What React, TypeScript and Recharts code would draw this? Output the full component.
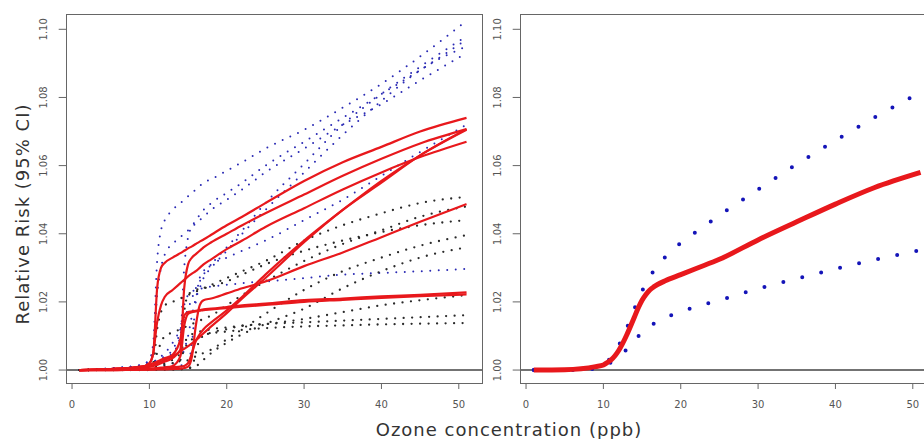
import React from 'react'
import { LineChart, Line, XAxis, YAxis, ReferenceLine } from 'recharts'

// shared x grid (ppb) for every curve
const xGrid = [1, 5, 9, 10, 10.5, 11, 11.5, 12, 13, 14, 14.5, 15, 15.5, 16, 16.5, 17, 18, 20, 22, 25, 30, 35, 40, 45, 51]

// left panel: estimates (red), upper CI (blue), lower CI (black)
const redA = [1.000, 1.0003, 1.001, 1.002, 1.005, 1.024, 1.030, 1.0315, 1.033, 1.0343, 1.035, 1.0357, 1.0363, 1.037, 1.0377, 1.0383, 1.0397, 1.0425, 1.045, 1.049, 1.0555, 1.061, 1.0655, 1.070, 1.074]
const redB = [1.000, 1.0003, 1.001, 1.002, 1.005, 1.014, 1.019, 1.0215, 1.0235, 1.0255, 1.0265, 1.0275, 1.0283, 1.029, 1.030, 1.031, 1.0325, 1.0355, 1.038, 1.042, 1.0475, 1.053, 1.058, 1.0625, 1.067]
const redC = [1.000, 1.0002, 1.0005, 1.001, 1.0012, 1.0015, 1.002, 1.0025, 1.0035, 1.006, 1.024, 1.031, 1.033, 1.034, 1.035, 1.036, 1.0375, 1.040, 1.0425, 1.046, 1.0515, 1.057, 1.062, 1.0665, 1.0707]
const redD = [1.000, 1.0002, 1.0008, 1.001, 1.0015, 1.002, 1.0025, 1.003, 1.004, 1.0055, 1.0062, 1.007, 1.0078, 1.0087, 1.0097, 1.0108, 1.0128, 1.0167, 1.021, 1.027, 1.0375, 1.047, 1.055, 1.063, 1.0707]
const redE = [1.000, 1.0000, 1.0001, 1.0002, 1.0003, 1.0004, 1.0005, 1.0006, 1.0008, 1.001, 1.0012, 1.002, 1.005, 1.0085, 1.0105, 1.012, 1.014, 1.0175, 1.0215, 1.028, 1.038, 1.047, 1.0555, 1.063, 1.0705]
const redF = [1.000, 1.000, 1.0001, 1.0001, 1.0001, 1.0002, 1.0002, 1.0002, 1.0003, 1.0004, 1.0006, 1.001, 1.004, 1.013, 1.019, 1.0205, 1.021, 1.0225, 1.024, 1.026, 1.0305, 1.0345, 1.039, 1.0435, 1.0487]
const redG = [1.000, 1.0003, 1.001, 1.0015, 1.002, 1.0025, 1.003, 1.0035, 1.0045, 1.009, 1.016, 1.017, 1.0172, 1.0174, 1.0176, 1.0178, 1.018, 1.0185, 1.019, 1.0195, 1.0205, 1.021, 1.0216, 1.0221, 1.0228]
const redH = [1.000, 1.0001, 1.0003, 1.0004, 1.0005, 1.0006, 1.0007, 1.0008, 1.0012, 1.004, 1.013, 1.0165, 1.017, 1.0172, 1.0174, 1.0176, 1.0178, 1.0182, 1.0186, 1.0191, 1.020, 1.0206, 1.0212, 1.0217, 1.0222]

const blueA = [1.000, 1.0005, 1.0015, 1.003, 1.008, 1.032, 1.041, 1.044, 1.047, 1.049, 1.050, 1.051, 1.052, 1.053, 1.054, 1.055, 1.056, 1.0585, 1.061, 1.065, 1.0705, 1.077, 1.084, 1.092, 1.1025]
const blueB = [1.000, 1.0005, 1.0015, 1.003, 1.006, 1.022, 1.030, 1.034, 1.037, 1.039, 1.040, 1.041, 1.042, 1.043, 1.044, 1.045, 1.047, 1.050, 1.053, 1.058, 1.065, 1.072, 1.078, 1.085, 1.093]
const blueC = [1.000, 1.0003, 1.001, 1.0015, 1.002, 1.0025, 1.003, 1.0035, 1.005, 1.010, 1.030, 1.039, 1.042, 1.044, 1.0455, 1.047, 1.049, 1.052, 1.055, 1.060, 1.067, 1.074, 1.081, 1.088, 1.097]
const blueD = [1.000, 1.0003, 1.0012, 1.002, 1.0025, 1.003, 1.004, 1.005, 1.008, 1.012, 1.015, 1.018, 1.021, 1.024, 1.026, 1.028, 1.031, 1.036, 1.041, 1.049, 1.0605, 1.072, 1.081, 1.089, 1.098]
const blueE = [1.000, 1.0001, 1.0003, 1.0005, 1.0007, 1.001, 1.0012, 1.0015, 1.002, 1.003, 1.006, 1.010, 1.016, 1.021, 1.024, 1.027, 1.030, 1.035, 1.040, 1.047, 1.058, 1.069, 1.079, 1.088, 1.095]
const blueF = [1.000, 1.000, 1.0002, 1.0003, 1.0004, 1.0005, 1.0006, 1.0007, 1.001, 1.0013, 1.0016, 1.002, 1.008, 1.020, 1.027, 1.029, 1.031, 1.033, 1.035, 1.038, 1.044, 1.050, 1.057, 1.064, 1.072]
const blueG = [1.000, 1.0005, 1.0015, 1.002, 1.0025, 1.003, 1.0035, 1.004, 1.006, 1.012, 1.019, 1.022, 1.023, 1.0235, 1.0238, 1.024, 1.0245, 1.025, 1.0255, 1.026, 1.027, 1.028, 1.0285, 1.029, 1.0297]

const blackA = [1.000, 1.0001, 1.0005, 1.001, 1.002, 1.012, 1.017, 1.019, 1.020, 1.021, 1.0215, 1.022, 1.0225, 1.023, 1.0235, 1.024, 1.025, 1.027, 1.029, 1.032, 1.038, 1.0425, 1.046, 1.049, 1.0508]
const blackB = [1.000, 1.0001, 1.0005, 1.001, 1.002, 1.005, 1.008, 1.010, 1.011, 1.012, 1.0125, 1.013, 1.0135, 1.014, 1.0145, 1.015, 1.016, 1.019, 1.022, 1.026, 1.032, 1.037, 1.041, 1.045, 1.048]
const blackC = [1.000, 1.0001, 1.0003, 1.0005, 1.0007, 1.001, 1.0012, 1.0015, 1.002, 1.003, 1.017, 1.022, 1.023, 1.0235, 1.0238, 1.024, 1.0245, 1.026, 1.028, 1.031, 1.035, 1.038, 1.0405, 1.0425, 1.044]
const blackD = [1.000, 1.0001, 1.0003, 1.0005, 1.0006, 1.0007, 1.0008, 1.0009, 1.001, 1.001, 1.0015, 1.003, 1.0035, 1.004, 1.0045, 1.005, 1.006, 1.009, 1.012, 1.0165, 1.0235, 1.029, 1.033, 1.0365, 1.0396]
const blackE = [1.000, 1.000, 1.0001, 1.0001, 1.0001, 1.0002, 1.0002, 1.0002, 1.0003, 1.0003, 1.0004, 1.0005, 1.0007, 1.001, 1.002, 1.003, 1.005, 1.008, 1.0105, 1.0135, 1.018, 1.024, 1.029, 1.033, 1.036]
const blackF = [1.000, 1.000, 1.000, 1.000, 1.000, 1.0001, 1.0001, 1.0001, 1.0001, 1.0002, 1.0003, 1.0005, 1.001, 1.005, 1.009, 1.010, 1.011, 1.012, 1.013, 1.0135, 1.015, 1.017, 1.019, 1.0205, 1.022]
const blackG = [1.000, 1.0001, 1.0005, 1.001, 1.0012, 1.0015, 1.0018, 1.002, 1.003, 1.005, 1.008, 1.0095, 1.0105, 1.011, 1.0113, 1.0115, 1.012, 1.0125, 1.013, 1.0135, 1.014, 1.0145, 1.015, 1.0155, 1.0161]
const blackH = [1.000, 1.0001, 1.0002, 1.0003, 1.0004, 1.0005, 1.0006, 1.0007, 1.001, 1.003, 1.006, 1.008, 1.009, 1.0095, 1.010, 1.0103, 1.0108, 1.0113, 1.0118, 1.0123, 1.0128, 1.0131, 1.0134, 1.0136, 1.0138]

// right panel: pooled estimate and its CI
const pooledRR = [1.000, 1.0001, 1.001, 1.0015, 1.0022, 1.003, 1.0042, 1.0058, 1.0102, 1.0155, 1.0182, 1.0205, 1.0222, 1.0235, 1.0244, 1.0251, 1.0262, 1.028, 1.0298, 1.0325, 1.0382, 1.0435, 1.0487, 1.0535, 1.058]
const pooledUpper = [1.000, 1.0001, 1.0008, 1.0015, 1.0025, 1.0038, 1.0055, 1.0073, 1.0122, 1.0179, 1.0206, 1.0232, 1.0253, 1.0273, 1.0291, 1.0306, 1.0332, 1.0373, 1.0406, 1.0454, 1.053, 1.0604, 1.0674, 1.0741, 1.0815]
const pooledLower = [1.000, 1.0000, 1.0004, 1.001, 1.0016, 1.0023, 1.0033, 1.0043, 1.006, 1.0086, 1.0099, 1.0111, 1.0121, 1.0129, 1.0136, 1.0143, 1.0154, 1.0171, 1.0186, 1.0205, 1.0239, 1.0268, 1.0297, 1.0323, 1.0352]

const xTicks = [0, 10, 20, 30, 40, 50]
const yTicks = [1.0, 1.02, 1.04, 1.06, 1.08, 1.1]

const leftUpper = { blueA, blueB, blueC, blueD, blueE, blueF, blueG }
const leftLower = { blackA, blackB, blackC, blackD, blackE, blackF, blackG, blackH }
const leftRed = { redA, redB, redC, redD, redE, redF, redG, redH }

const buildRows = (groups: Record<string, number[]>[]) =>
  xGrid.map((x, i) => {
    const row: Record<string, number> = { x }
    groups.forEach(g => Object.keys(g).forEach(k => { row[k] = g[k][i] }))
    return row
  })

const leftRows = buildRows([leftUpper, leftLower, leftRed])
const rightRows = buildRows([{ pooledRR, pooledUpper, pooledLower }])

const FONT = 'DejaVu Sans, sans-serif'
const CHART_W = 490
const CHART_H = 439
const Y_AXIS_W = 66.7

function YTick(props: any) {
  const { x, y, payload } = props
  const cx = x - 12
  return (
    <text x={cx} y={y} transform={`rotate(-90 ${cx} ${y})`} textAnchor="middle" dominantBaseline="central"
      fontSize={10} fill="#555" fontFamily={FONT}>
      {Number(payload.value).toFixed(2)}
    </text>
  )
}

function Panel({ left, rows, children }: { left: number; rows: any[]; children: React.ReactNode }) {
  return (
    <div style={{ position: 'absolute', left, top: 0 }}>
      <LineChart width={CHART_W} height={CHART_H} data={rows} margin={{ top: 15, right: 8, bottom: 16, left: 0 }}>
        <XAxis dataKey="x" type="number" domain={[-0.69, 53]} ticks={xTicks} axisLine={false}
          tickSize={6} tickMargin={12} height={40} interval={0}
          tickLine={{ stroke: '#666' }} tick={{ fontSize: 10, fill: '#555', fontFamily: FONT }} />
        <YAxis type="number" domain={[0.9962, 1.1042]} ticks={yTicks} axisLine={false} width={Y_AXIS_W}
          tickSize={8} tickMargin={3} interval={0} tickLine={{ stroke: '#666' }} tick={<YTick />} />
        <ReferenceLine y={1} stroke="#444" strokeWidth={1.5} />
        {children}
      </LineChart>
      {/* plot frame */}
      <div style={{
        position: 'absolute', left: Y_AXIS_W - 1, top: 14, width: CHART_W - 8 - Y_AXIS_W,
        height: 368, border: '1.5px solid #666', pointerEvents: 'none'
      }} />
    </div>
  )
}

const dotted = (key: string, color: string, width: number, gap: number) => (
  <Line key={key} dataKey={key} type="monotone" stroke={color} strokeWidth={width} strokeDasharray={`0 ${gap}`}
    strokeLinecap="round" dot={false} activeDot={false} isAnimationActive={false} />
)

export default function App() {
  return (
    <div style={{ position: 'fixed', left: 0, top: 0, width: 924, height: 439, overflow: 'hidden', background: '#fff' }}>
      <Panel left={0} rows={leftRows}>
        {Object.keys(leftUpper).map(k => dotted(k, '#2a2ab4', 2, 8.5))}
        {Object.keys(leftLower).map(k => dotted(k, '#2a2a2a', 2.3, 8.5))}
        {Object.keys(leftRed).map(k => (
          <Line key={k} dataKey={k} type="monotone" stroke="#e8181c" strokeWidth={2.2} dot={false}
            activeDot={false} isAnimationActive={false} />
        ))}
      </Panel>
      <Panel left={454} rows={rightRows}>
        {dotted('pooledUpper', '#1414b8', 4, 19.5)}
        {dotted('pooledLower', '#1414b8', 4, 19.5)}
        <Line dataKey="pooledRR" type="monotone" stroke="#e8181c" strokeWidth={5} dot={false}
          activeDot={false} isAnimationActive={false} />
      </Panel>
      <div style={{
        position: 'absolute', left: 22, top: 214, transform: 'translate(-50%, -50%) rotate(-90deg)',
        whiteSpace: 'nowrap', fontFamily: FONT, fontSize: 18, letterSpacing: 1, color: '#333'
      }}>
        Relative Risk (95% CI)
      </div>
      <div style={{
        position: 'absolute', left: 509, top: 429, transform: 'translate(-50%, -50%)',
        whiteSpace: 'nowrap', fontFamily: FONT, fontSize: 18, letterSpacing: 1, color: '#333'
      }}>
        Ozone concentration (ppb)
      </div>
    </div>
  )
}
